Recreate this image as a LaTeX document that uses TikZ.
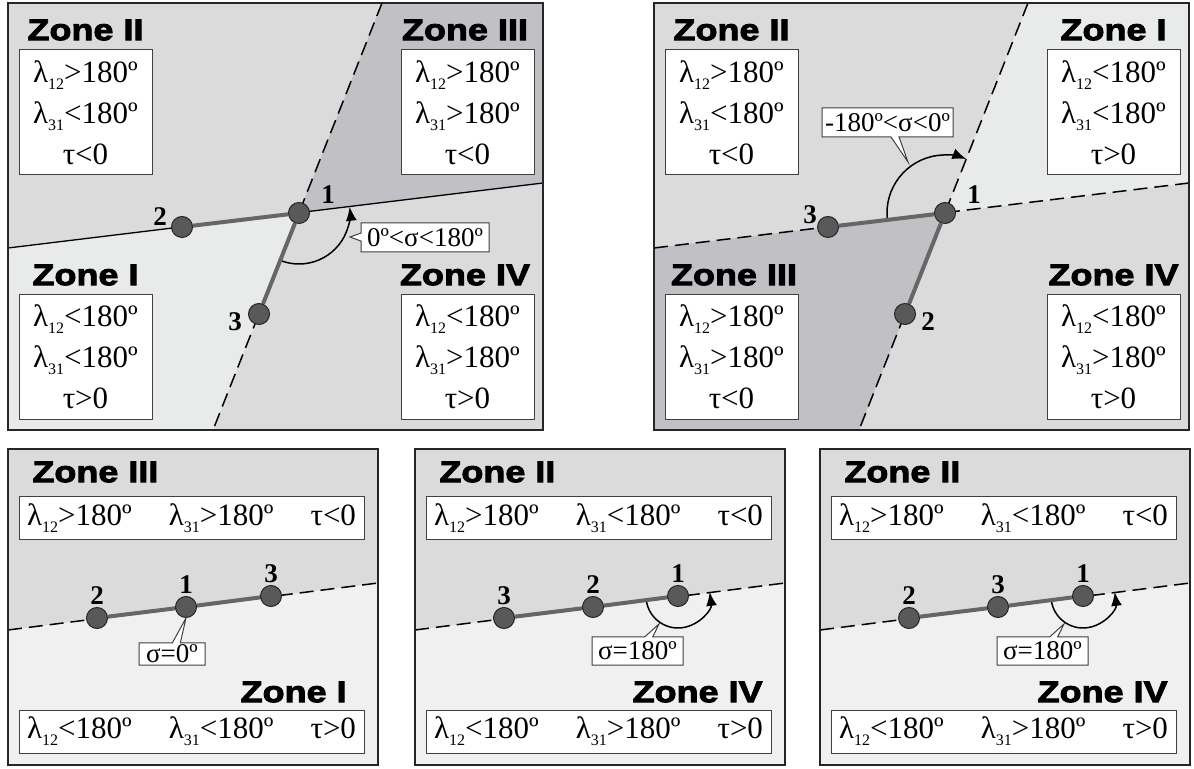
\documentclass[tikz,border=0pt]{standalone}
\usepackage{fontspec}
\setmainfont{Liberation Serif}
\newfontfamily\zonefont{Liberation Sans}[FakeBold=3,FakeStretch=1.2]
\usetikzlibrary{shapes.callouts,arrows.meta}
\definecolor{zonepale}{RGB}{240,240,240}
\definecolor{zonelight}{RGB}{233,234,234}
\definecolor{zonemid}{RGB}{219,219,219}
\definecolor{zonedark}{RGB}{193,193,197}
\newcommand{\lam}[1]{λ\raisebox{-0.5ex}{\fontsize{8}{8}\selectfont #1}}
\tikzset{
  panel/.style={draw=black!85, line width=0.6pt},
  cond/.style={draw=black!75, fill=white, line width=0.5pt, align=center, inner sep=0pt,
    minimum width=66.5pt, minimum height=62.5pt, font=\fontsize{15.5}{20.5}\selectfont},
  condrow/.style={draw=black!75, fill=white, line width=0.5pt, inner xsep=4pt, inner ysep=0pt,
    text width=164.5pt, minimum height=21.5pt, font=\fontsize{15.5}{18}\selectfont},
  zone/.style={inner sep=0pt, font=\zonefont\bfseries\fontsize{15}{15}\selectfont},
  pnt/.style={circle, draw=black!85, line width=0.5pt, fill=black!65, minimum size=10.5pt, inner sep=0pt},
  idx/.style={inner sep=0pt, font=\bfseries\fontsize{13.5}{13.5}\selectfont},
  seg/.style={draw=black!60, line width=2pt},
  cutline/.style={dash pattern=on 7pt off 3.5pt, line width=0.75pt},
  trace/.style={line width=0.65pt},
  sweep/.style={line width=0.75pt, -{Latex[length=7pt,width=5.5pt]}},
  note/.style={rectangle callout, draw=black!75, fill=white, line width=0.5pt, inner sep=0pt,
    callout pointer width=4pt, font=\fontsize{13.5}{13.5}\selectfont},
}
\begin{document}
\begin{tikzpicture}[x=0.5pt,y=-0.5pt]
\useasboundingbox (0,0) rectangle (1194,769);

\fill[zonemid] (8,3) rectangle (543,430);
\coordinate (a1) at (299,213);
\coordinate (a2) at (182,227);
\coordinate (a3) at (259,314);
\coordinate (aW) at (8,248);
\coordinate (aE) at (543,183);
\coordinate (aN) at (382,3);
\coordinate (aS) at (213,430);
\fill[zonedark] (aN) -- (543,3) -- (aE) -- (a1) -- cycle;
\fill[zonelight] (aW) -- (a1) -- (aS) -- (8,430) -- cycle;
\draw[trace] (aW) -- (aE);
\draw[cutline] (aN) -- (aS);
\draw[panel] (8,3) rectangle (543,430);
\node[zone] (zaII) at (85.5,30) {Zone II};
\node[cond] (kaII) at (85.5,112.5) {\lam{12}>180º\\\lam{31}<180º\\τ<0};
\node[zone] (zaIII) at (465,30) {Zone III};
\node[cond] (kaIII) at (467.5,112.5) {\lam{12}>180º\\\lam{31}>180º\\τ<0};
\node[zone] (zaI) at (85.5,275) {Zone I};
\node[cond] (kaI) at (85.5,357) {\lam{12}<180º\\\lam{31}<180º\\τ>0};
\node[zone] (zaIV) at (465,275) {Zone IV};
\node[cond] (kaIV) at (467.5,357) {\lam{12}<180º\\\lam{31}>180º\\τ>0};
\draw[sweep] (a1) ++(248.4:25.5pt) arc[start angle=248.4, end angle=367, radius=25.5pt];
\node[pnt] (na1) at (a1) {};
\node[pnt] (na2) at (a2) {};
\node[pnt] (na3) at (a3) {};
\draw[seg] (na2) -- (na1);
\draw[seg] (na1) -- (na3);
\node[idx] (la1) at (328,195) {1};
\node[idx] (la2) at (160,217) {2};
\node[idx] (la3) at (235,322) {3};
\coordinate (aC) at (350,237);
\node[note, minimum width=64pt, minimum height=14.5pt, callout absolute pointer={(aC)}] (anote) at (425,237.5) {0º<σ<180º};

\begin{scope}[shift={(646,0)}]
\fill[zonemid] (8,3) rectangle (543,430);
\coordinate (b1) at (299,213);
\coordinate (b3) at (182,227);
\coordinate (b2) at (259,314);
\coordinate (bW) at (8,248);
\coordinate (bE) at (543,183);
\coordinate (bN) at (382,3);
\coordinate (bS) at (213,430);
\fill[zonelight] (bN) -- (543,3) -- (bE) -- (b1) -- cycle;
\fill[zonedark] (bW) -- (b1) -- (bS) -- (8,430) -- cycle;
\draw[cutline] (bW) -- (bE);
\draw[cutline] (bN) -- (bS);
\draw[panel] (8,3) rectangle (543,430);
\node[zone] (zbII) at (85.5,30) {Zone II};
\node[cond] (kbII) at (85.5,112.5) {\lam{12}>180º\\\lam{31}<180º\\τ<0};
\node[zone] (zbI) at (467.5,30) {Zone I};
\node[cond] (kbI) at (467.5,112.5) {\lam{12}<180º\\\lam{31}<180º\\τ>0};
\node[zone] (zbIII) at (88,275) {Zone III};
\node[cond] (kbIII) at (85.5,357) {\lam{12}>180º\\\lam{31}>180º\\τ<0};
\node[zone] (zbIV) at (467.5,275) {Zone IV};
\node[cond] (kbIV) at (467.5,357) {\lam{12}<180º\\\lam{31}>180º\\τ>0};
\draw[sweep] (b1) ++(186.8:29pt) arc[start angle=186.8, end angle=68.4, radius=29pt];
\node[pnt] (nb1) at (b1) {};
\node[pnt] (nb2) at (b2) {};
\node[pnt] (nb3) at (b3) {};
\draw[seg] (nb3) -- (nb1);
\draw[seg] (nb1) -- (nb2);
\node[idx] (lb1) at (328,195) {1};
\node[idx] (lb3) at (164,215) {3};
\node[idx] (lb2) at (282,322) {2};
\coordinate (bC) at (262,162);
\node[note, minimum width=65.5pt, minimum height=14.5pt, callout absolute pointer={(bC)}] (bnote) at (241.5,122.5) {-180º<σ<0º};
\end{scope}

\fill[zonepale] (8,449) rectangle (378,765);
\coordinate (cW) at (8,630);
\coordinate (cE) at (378,583);
\fill[zonemid] (8,449) -- (378,449) -- (cE) -- (cW) -- cycle;
\draw[cutline] (cW) -- (cE);
\draw[panel] (8,449) rectangle (378,765);
\node[zone, anchor=west] (zcIII) at (32,472) {Zone III};
\node[condrow] (kcIII) at (191.5,518.5) {\lam{12}>180º\hfill\lam{31}>180º\hfill τ<0};
\node[zone, anchor=east] (zcI) at (347,692) {Zone I};
\node[condrow] (kcI) at (191.5,731.5) {\lam{12}<180º\hfill\lam{31}<180º\hfill τ>0};
\node[pnt] (nc2) at (97,618) {};
\node[pnt] (nc1) at (186,607) {};
\node[pnt] (nc3) at (271,596) {};
\draw[seg] (nc2) -- (nc1);
\draw[seg] (nc1) -- (nc3);
\node[idx] (lc2) at (97,596) {2};
\node[idx] (lc1) at (186,585) {1};
\node[idx] (lc3) at (271,574) {3};
\node[note, minimum width=33pt, minimum height=11pt, callout absolute pointer={(nc1.south)}] (cnote) at (172,654) {σ=0º};

\begin{scope}[shift={(407,0)}]
\fill[zonepale] (8,449) rectangle (378,765);
\coordinate (dW) at (8,630);
\coordinate (dE) at (378,583);
\fill[zonemid] (8,449) -- (378,449) -- (dE) -- (dW) -- cycle;
\draw[cutline] (dW) -- (dE);
\draw[panel] (8,449) rectangle (378,765);
\node[zone, anchor=west] (zdII) at (32,472) {Zone II};
\node[condrow] (kdII) at (191.5,518.5) {\lam{12}>180º\hfill\lam{31}<180º\hfill τ<0};
\node[zone, anchor=east] (zdIV) at (356,692) {Zone IV};
\node[condrow] (kdIV) at (191.5,731.5) {\lam{12}<180º\hfill\lam{31}>180º\hfill τ>0};
\node[pnt] (nd3) at (97,618) {};
\node[pnt] (nd2) at (186,607) {};
\node[pnt] (nd1) at (271,596) {};
\draw[sweep] (nd1.center) ++(187.4:16pt) arc[start angle=187.4, end angle=367.4, radius=16pt];
\draw[seg] (nd3) -- (nd2);
\draw[seg] (nd2) -- (nd1);
\node[idx] (ld3) at (97,596) {3};
\node[idx] (ld2) at (186,585) {2};
\node[idx] (ld1) at (271,574) {1};
\coordinate (dC) at (252,624);
\node[note, minimum width=45.5pt, minimum height=14pt, callout absolute pointer={(dC)}] (dnote) at (230.5,651) {σ=180º};
\end{scope}

\begin{scope}[shift={(812,0)}]
\fill[zonepale] (8,449) rectangle (378,765);
\coordinate (eW) at (8,630);
\coordinate (eE) at (378,583);
\fill[zonemid] (8,449) -- (378,449) -- (eE) -- (eW) -- cycle;
\draw[cutline] (eW) -- (eE);
\draw[panel] (8,449) rectangle (378,765);
\node[zone, anchor=west] (zeII) at (32,472) {Zone II};
\node[condrow] (keII) at (191.5,518.5) {\lam{12}>180º\hfill\lam{31}<180º\hfill τ<0};
\node[zone, anchor=east] (zeIV) at (356,692) {Zone IV};
\node[condrow] (keIV) at (191.5,731.5) {\lam{12}<180º\hfill\lam{31}>180º\hfill τ>0};
\node[pnt] (ne2) at (97,618) {};
\node[pnt] (ne3) at (186,607) {};
\node[pnt] (ne1) at (271,596) {};
\draw[sweep] (ne1.center) ++(187.4:16pt) arc[start angle=187.4, end angle=367.4, radius=16pt];
\draw[seg] (ne2) -- (ne3);
\draw[seg] (ne3) -- (ne1);
\node[idx] (le2) at (97,596) {2};
\node[idx] (le3) at (186,585) {3};
\node[idx] (le1) at (271,574) {1};
\coordinate (eC) at (252,624);
\node[note, minimum width=45.5pt, minimum height=14pt, callout absolute pointer={(eC)}] (enote) at (230.5,651) {σ=180º};
\end{scope}
\end{tikzpicture}
\end{document}
